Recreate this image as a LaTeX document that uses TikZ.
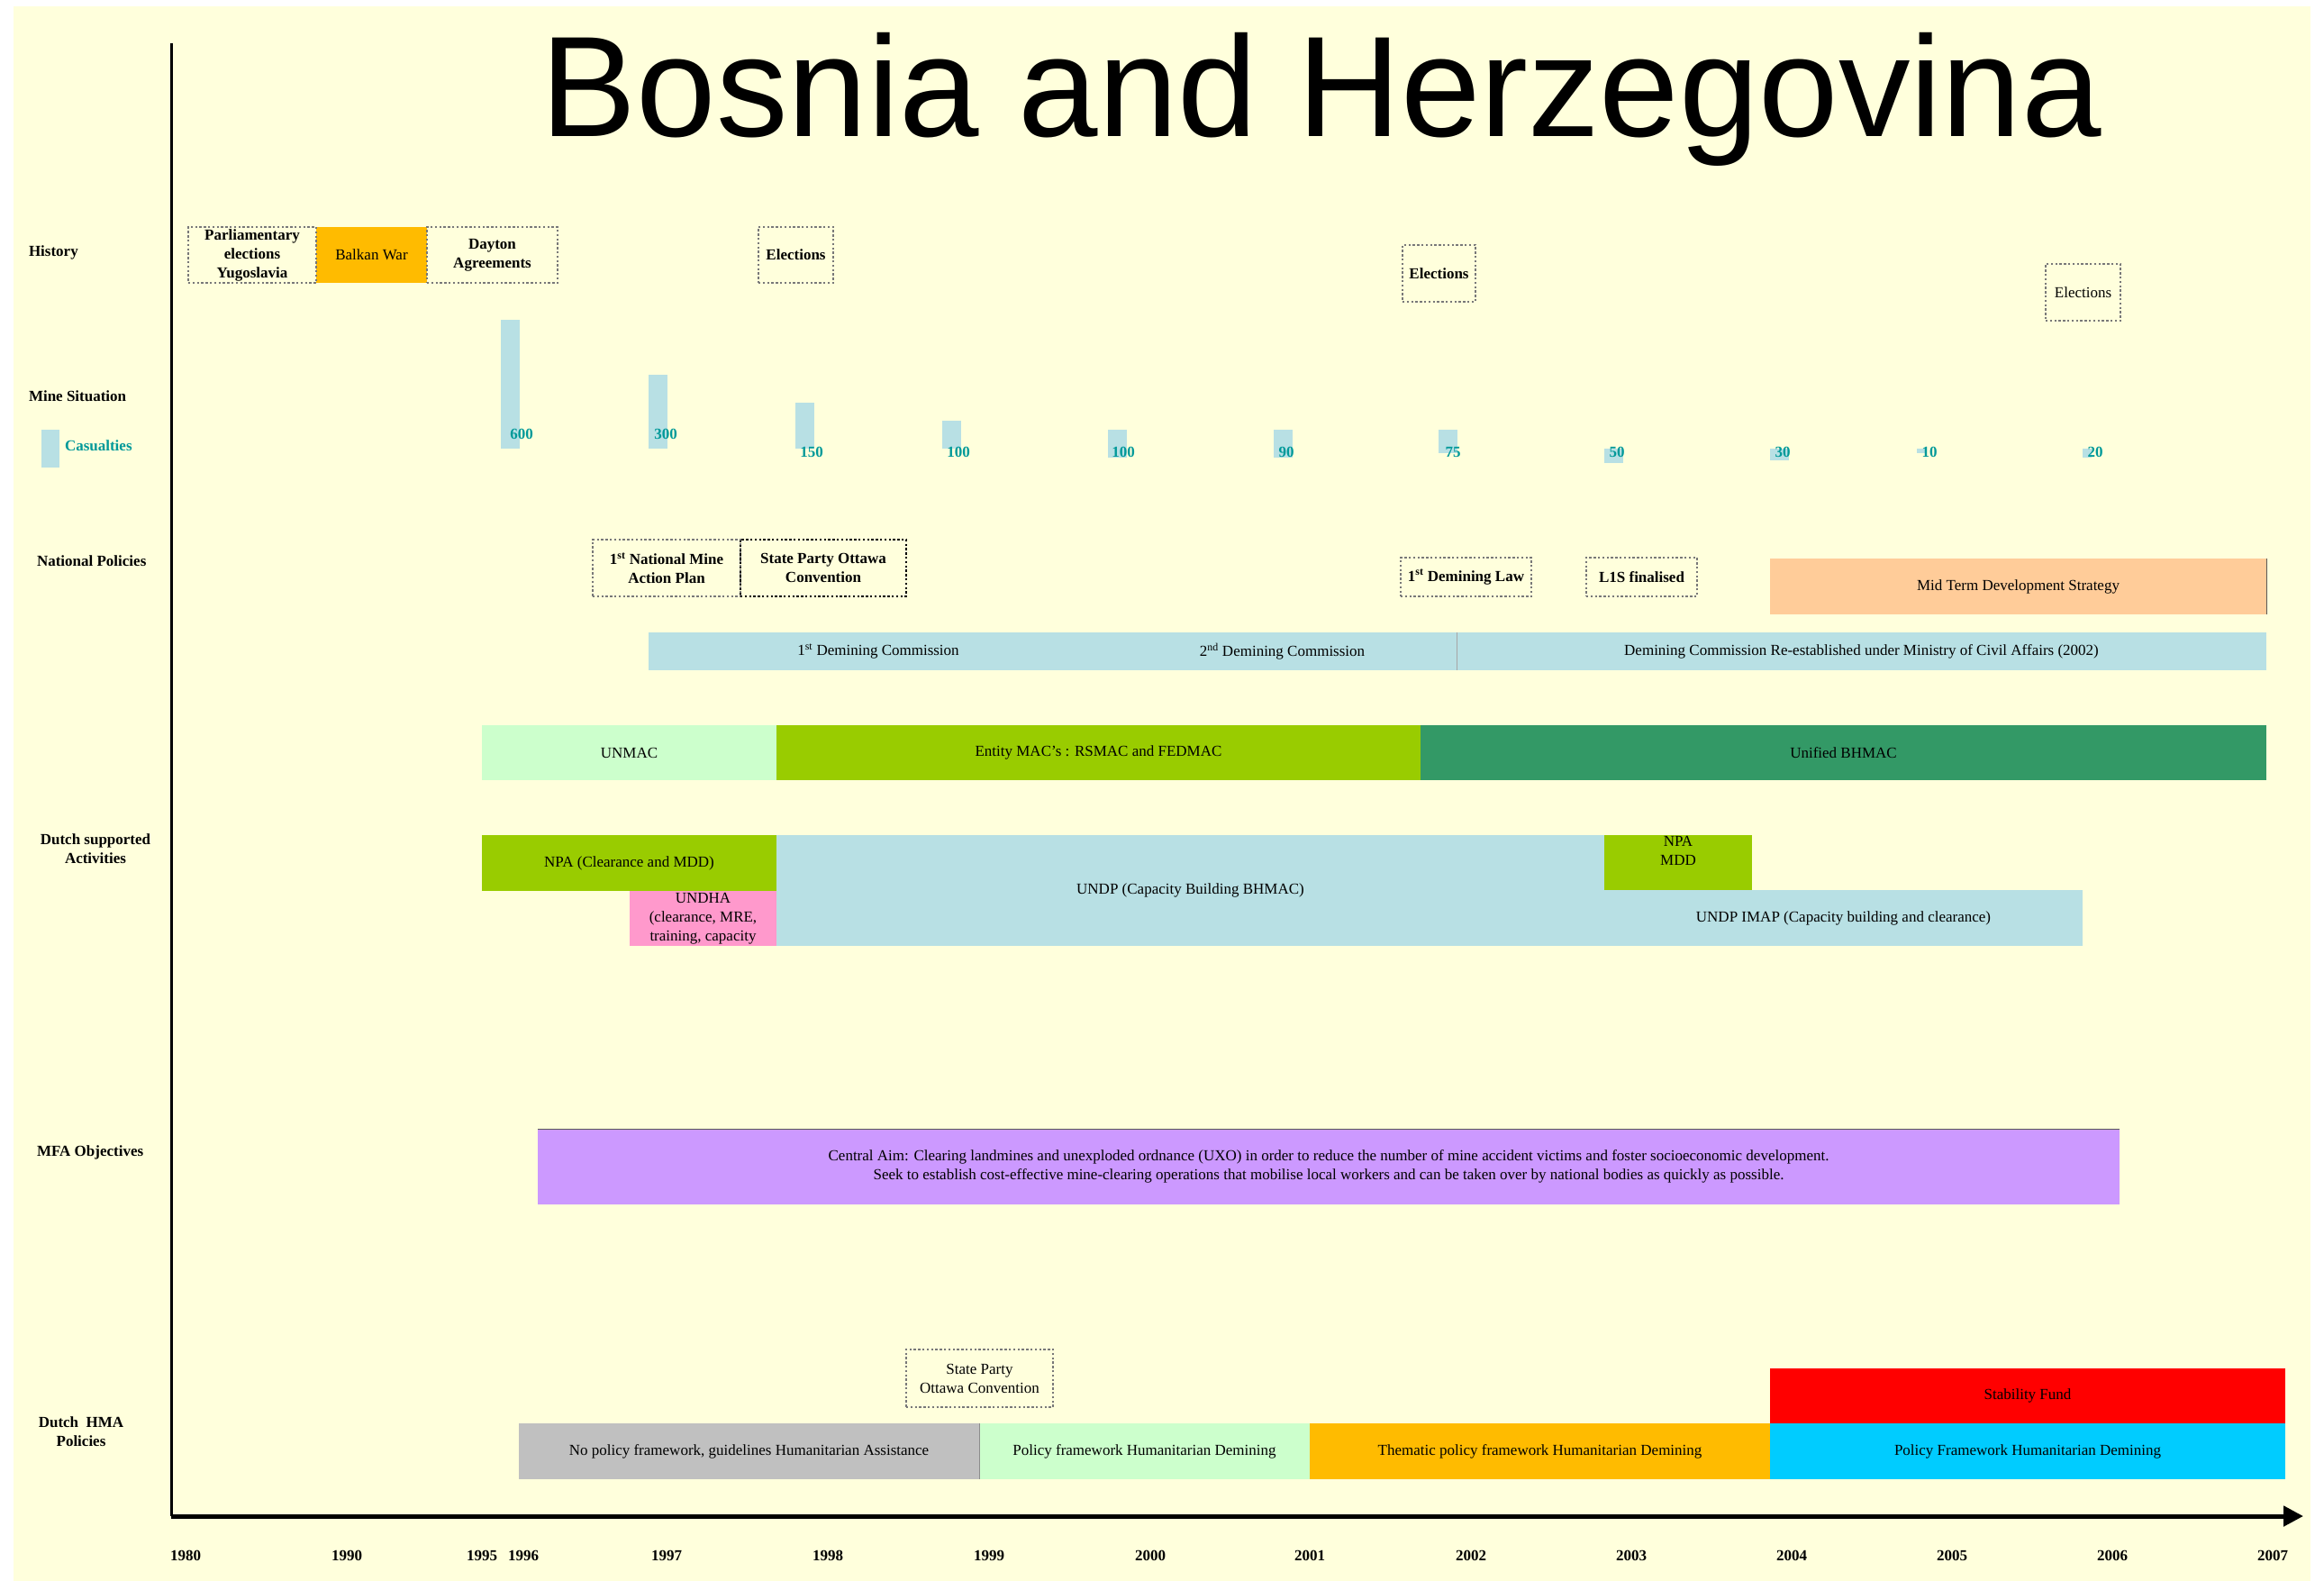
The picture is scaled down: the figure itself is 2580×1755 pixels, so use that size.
\documentclass[tikz,border=0pt]{standalone}
\usepackage{fontspec}
\setmainfont{Liberation Serif}
\newfontfamily\titlefont{Liberation Sans}
\usetikzlibrary{arrows.meta,positioning}
\definecolor{bgyellow}{RGB}{255,255,220}
\definecolor{dotgray}{RGB}{120,120,120}
\definecolor{casblue}{RGB}{184,224,228}
\definecolor{castext}{RGB}{0,153,153}
\definecolor{warorange}{RGB}{255,187,0}
\definecolor{peach}{RGB}{255,204,153}
\definecolor{macgreen}{RGB}{204,255,204}
\definecolor{limegreen}{RGB}{153,204,0}
\definecolor{bhmacgreen}{RGB}{51,153,102}
\definecolor{undhapink}{RGB}{255,153,204}
\definecolor{mfalilac}{RGB}{204,153,255}
\definecolor{nopolgray}{RGB}{192,192,192}
\definecolor{stabred}{RGB}{255,0,0}
\definecolor{hmacyan}{RGB}{0,204,255}

\begin{document}
\begin{tikzpicture}[
  x=1pt, y=-1pt,
  every node/.style={font=\fontsize{17}{21}\selectfont, inner sep=0pt, outer sep=0pt, align=center},
  fillbar/.style={anchor=north west},
  dotbox/.style={fillbar, draw=dotgray, line width=2.6pt, dash pattern=on 2.4pt off 2.4pt, font=\fontsize{17}{21}\selectfont\bfseries},
  rowlabel/.style={font=\fontsize{17}{21}\selectfont\bfseries},
  yearlabel/.style={font=\fontsize{17}{21}\selectfont\bfseries},
  caslabel/.style={font=\fontsize{17}{21}\selectfont\bfseries, text=castext},
  edgeline/.style={draw=black!65, line width=1pt}
]
  \path[use as bounding box] (0,0) rectangle (2580,1755);
  \fill[bgyellow] (15,7) rectangle (2565,1755);

  \node[font=\titlefont\fontsize{159}{162}\selectfont, anchor=base] (title) at (1467,152) {Bosnia and Herzegovina};

  \node[rowlabel, anchor=west] (lhistory) at (32,280) {History};
  \node[rowlabel, anchor=west] (lmine) at (32,440) {Mine Situation};
  \node[fillbar, fill=casblue, minimum width=20pt, minimum height=42pt] (legendbar) at (46,477) {};
  \node[caslabel, anchor=west] (lcas) at (72,495) {Casualties};
  \node[rowlabel, anchor=west] (lnational) at (41,623) {National Policies};
  \node[rowlabel] (ldutch) at (106,942) {Dutch supported\\Activities};
  \node[rowlabel, anchor=west] (lmfa) at (41,1279) {MFA Objectives};
  \node[rowlabel] (lhma) at (90,1589) {Dutch~ HMA\\Policies};

  \node[fillbar, fill=warorange, minimum width=123pt, minimum height=62pt] (war) at (351,252) {Balkan War};
  \node[dotbox, minimum width=142pt, minimum height=62pt] (parl) at (209,252) {Parliamentary\\elections\\Yugoslavia};
  \node[dotbox, minimum width=145pt, minimum height=62pt] (dayton) at (474,252) {Dayton\\Agreements};
  \node[dotbox, minimum width=83pt, minimum height=62pt] (elect98) at (842,252) {Elections};
  \node[dotbox, minimum width=81pt, minimum height=63pt] (elect02) at (1557,272) {Elections};
  \node[dotbox, font=\fontsize{17}{21}\selectfont, minimum width=83pt, minimum height=63pt] (elect06) at (2271,293) {Elections};

  \node[fillbar, fill=casblue, minimum width=21pt, minimum height=143pt] (cas1) at (556,355) {};
  \node[fillbar, fill=casblue, minimum width=21pt, minimum height=82pt] (cas2) at (720,416) {};
  \node[fillbar, fill=casblue, minimum width=21pt, minimum height=51pt] (cas3) at (883,447) {};
  \node[fillbar, fill=casblue, minimum width=21pt, minimum height=31pt] (cas4) at (1046,467) {};
  \node[fillbar, fill=casblue, minimum width=21pt, minimum height=31pt] (cas5) at (1230,477) {};
  \node[fillbar, fill=casblue, minimum width=21pt, minimum height=31pt] (cas6) at (1414,477) {};
  \node[fillbar, fill=casblue, minimum width=21pt, minimum height=26pt] (cas7) at (1597,477) {};
  \node[fillbar, fill=casblue, minimum width=21pt, minimum height=16pt] (cas8) at (1781,498) {};
  \node[fillbar, fill=casblue, minimum width=21pt, minimum height=13pt] (cas9) at (1965,498) {};
  \node[fillbar, fill=casblue, minimum width=10pt, minimum height=5pt] (cas10) at (2128,498) {};
  \node[fillbar, fill=casblue, minimum width=10pt, minimum height=10pt] (cas11) at (2312,498) {};
  \node[caslabel] (val1) at (579,482) {600};
  \node[caslabel] (val2) at (739,482) {300};
  \node[caslabel] (val3) at (901,502) {150};
  \node[caslabel] (val4) at (1064,502) {100};
  \node[caslabel] (val5) at (1247,502) {100};
  \node[caslabel] (val6) at (1428,502) {90};
  \node[caslabel] (val7) at (1613,502) {75};
  \node[caslabel] (val8) at (1795,502) {50};
  \node[caslabel] (val9) at (1979,502) {30};
  \node[caslabel] (val10) at (2142,502) {10};
  \node[caslabel] (val11) at (2326,502) {20};

  \node[dotbox, minimum width=164pt, minimum height=63pt] (nmap) at (658,599) {1\textsuperscript{st} National Mine\\Action Plan};
  \node[dotbox, draw=black, minimum width=184pt, minimum height=63pt] (ottawa) at (822,599) {State Party Ottawa\\Convention};
  \node[dotbox, minimum width=145pt, minimum height=43pt] (law) at (1555,619) {1\textsuperscript{st} Demining Law};
  \node[dotbox, minimum width=123pt, minimum height=43pt] (lis) at (1761,619) {L1S finalised};
  \node[fillbar, fill=peach, minimum width=551pt, minimum height=62pt] (mtds) at (1965,620) {Mid Term Development Strategy};

  \node[fillbar, fill=casblue, minimum width=510pt, minimum height=42pt] (com1) at (720,702) {1\textsuperscript{st} Demining Commission};
  \node[fillbar, fill=casblue, minimum width=387pt, minimum height=42pt] (com2) at (1230,702) {2\textsuperscript{nd} Demining Commission};
  \node[fillbar, fill=casblue, minimum width=899pt, minimum height=42pt] (comre) at (1617,702) {Demining Commission Re-established under Ministry of Civil Affairs (2002)};

  \node[fillbar, fill=macgreen, minimum width=327pt, minimum height=61pt] (unmac) at (535,805) {UNMAC};
  \node[fillbar, fill=limegreen, minimum width=715pt, minimum height=61pt] (entity) at (862,805) {Entity MAC’s : RSMAC and FEDMAC};
  \node[fillbar, fill=bhmacgreen, minimum width=939pt, minimum height=61pt] (unified) at (1577,805) {Unified BHMAC};

  \node[fillbar, fill=limegreen, minimum width=327pt, minimum height=62pt] (npa) at (535,927) {NPA (Clearance and MDD)};
  \node[fillbar, fill=undhapink, minimum width=163pt, minimum height=61pt] (undha) at (699,989) {UNDHA\\(clearance, MRE,\\training, capacity};
  \node[fillbar, fill=casblue, minimum width=919pt, minimum height=123pt] (undp) at (862,927) {UNDP (Capacity Building BHMAC)};
  \node[fillbar, fill=limegreen, minimum width=164pt, minimum height=61pt] (npamdd) at (1781,927) {};
  \node[anchor=north] (npamddtext) at ([yshift=-1pt]npamdd.north) {NPA\\MDD};
  \node[fillbar, fill=casblue, minimum width=531pt, minimum height=62pt] (imap) at (1781,988) {UNDP IMAP (Capacity building and clearance)};

  \node[fillbar, fill=mfalilac, minimum width=1756pt, minimum height=84pt] (mfa) at (597,1253) {Central Aim: Clearing landmines and unexploded ordnance (UXO) in order to reduce the number of mine accident victims and foster socioeconomic development.\\Seek to establish cost-effective mine-clearing operations that mobilise local workers and can be taken over by national bodies as quickly as possible.};

  \node[dotbox, font=\fontsize{17}{21}\selectfont, minimum width=163pt, minimum height=64pt] (ottawa2) at (1006,1498) {State Party\\Ottawa Convention};
  \node[fillbar, fill=stabred, minimum width=572pt, minimum height=61pt] (stab) at (1965,1519) {Stability Fund};
  \node[fillbar, fill=nopolgray, minimum width=511pt, minimum height=62pt] (nopol) at (576,1580) {No policy framework, guidelines Humanitarian Assistance};
  \node[fillbar, fill=macgreen, minimum width=367pt, minimum height=62pt] (polfw) at (1087,1580) {Policy framework Humanitarian Demining};
  \node[fillbar, fill=warorange, minimum width=511pt, minimum height=62pt] (thematic) at (1454,1580) {Thematic policy framework Humanitarian Demining};
  \node[fillbar, fill=hmacyan, minimum width=572pt, minimum height=62pt] (polfw2) at (1965,1580) {Policy Framework Humanitarian Demining};

  \draw[edgeline] (mtds.north east) -- (mtds.south east);
  \draw[edgeline, draw=black!35] (comre.north west) -- (comre.south west);
  \draw[edgeline] (mfa.north west) -- (mfa.north east);
  \draw[edgeline, draw=black!45] (nopol.north east) -- (nopol.south east);

  \coordinate (axtop) at (190,48);
  \coordinate (axorigin) at (190,1683);
  \coordinate (axend) at (2557,1683);
  \draw[line width=3pt] (axtop) -- (axorigin);
  \draw[line width=5pt, -{Triangle[length=22pt,width=22pt]}] (axorigin) -- (axend);

  \node[yearlabel] (y1980) at (206,1727) {1980};
  \node[yearlabel] (y1990) at (385,1727) {1990};
  \node[yearlabel] (y1995) at (535,1727) {1995};
  \node[yearlabel] (y1996) at (581,1727) {1996};
  \node[yearlabel] (y1997) at (740,1727) {1997};
  \node[yearlabel] (y1998) at (919,1727) {1998};
  \node[yearlabel] (y1999) at (1098,1727) {1999};
  \node[yearlabel] (y2000) at (1277,1727) {2000};
  \node[yearlabel] (y2001) at (1454,1727) {2001};
  \node[yearlabel] (y2002) at (1633,1727) {2002};
  \node[yearlabel] (y2003) at (1811,1727) {2003};
  \node[yearlabel] (y2004) at (1989,1727) {2004};
  \node[yearlabel] (y2005) at (2167,1727) {2005};
  \node[yearlabel] (y2006) at (2345,1727) {2006};
  \node[yearlabel] (y2007) at (2523,1727) {2007};
\end{tikzpicture}
\end{document}
